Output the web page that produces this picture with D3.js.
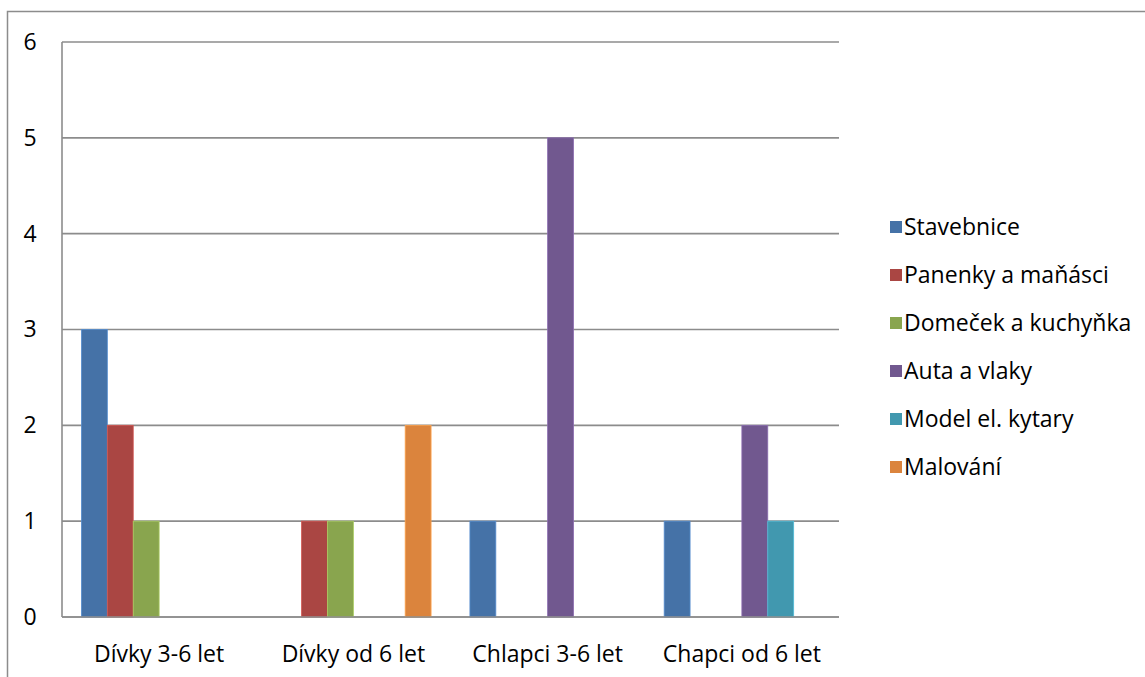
<!DOCTYPE html>
<html>
<head>
<meta charset="utf-8">
<script src="https://cdn.jsdelivr.net/npm/d3@7"></script>
<style>
  html, body { margin: 0; padding: 0; background: #fff; }
  svg { display: block; font-family: "Open Sans", "Noto Sans", sans-serif; }
</style>
</head>
<body>
<svg id="chart" width="1145" height="677"></svg>
<script>
// Age groups along the x axis
const categories = ["Dívky 3-6 let", "Dívky od 6 let", "Chlapci 3-6 let", "Chapci od 6 let"];

// Toy types (series) and their colours
const seriesNames = ["Stavebnice", "Panenky a maňásci", "Domeček a kuchyňka", "Auta a vlaky", "Model el. kytary", "Malování"];
const seriesColors = ["#4572A7", "#AA4643", "#89A54E", "#71588F", "#4198AF", "#DB843D"];

// Counts per series, one value per age group
const stavebnice = [3, 0, 1, 1];
const panenky    = [2, 1, 0, 0];
const domecek    = [1, 1, 0, 0];
const auta       = [0, 0, 5, 2];
const kytary     = [0, 0, 0, 1];
const malovani   = [0, 2, 0, 0];
const seriesValues = [stavebnice, panenky, domecek, auta, kytary, malovani];

const yTicks = [0, 1, 2, 3, 4, 5, 6];

const FONT = 23;
const svg = d3.select("#chart");
const plot = { left: 62, right: 839, top: 42, bottom: 617 };

// Outer chart frame
svg.append("path")
  .attr("d", "M7.5,677 V11.5 H1145")
  .attr("fill", "none").attr("stroke", "#8c8c8c").attr("stroke-width", 1.5);

const x0 = d3.scaleBand().domain(categories).range([plot.left, plot.right]).paddingInner(0).paddingOuter(0);
const x1 = d3.scaleBand().domain(d3.range(seriesNames.length))
  .range([0, x0.bandwidth()]).paddingInner(0).paddingOuter(0.75);
const y = d3.scaleLinear().domain([0, 6]).range([plot.bottom, plot.top]);

// Horizontal gridlines
svg.append("g").selectAll("line").data(yTicks).join("line")
  .attr("x1", plot.left).attr("x2", plot.right)
  .attr("y1", d => y(d)).attr("y2", d => y(d))
  .attr("stroke", "#8c8c8c").attr("stroke-width", 1.6);

// Bars
const groups = svg.append("g").selectAll("g").data(categories).join("g")
  .attr("transform", c => `translate(${x0(c)},0)`);
groups.selectAll("rect")
  .data((c, ci) => seriesValues.map((vals, si) => ({ si, v: vals[ci] })).filter(d => d.v > 0))
  .join("rect")
  .attr("x", d => x1(d.si))
  .attr("width", x1.bandwidth())
  .attr("y", d => y(d.v))
  .attr("height", d => y(0) - y(d.v))
  .attr("fill", d => seriesColors[d.si])
  .attr("stroke", d => d3.color(seriesColors[d.si]).brighter(0.6))
  .attr("stroke-width", 0.8);

// Y axis line
svg.append("line")
  .attr("x1", plot.left).attr("x2", plot.left)
  .attr("y1", plot.top).attr("y2", plot.bottom)
  .attr("stroke", "#8c8c8c").attr("stroke-width", 1.6);
// X axis line
svg.append("line")
  .attr("x1", plot.left).attr("x2", plot.right)
  .attr("y1", plot.bottom).attr("y2", plot.bottom)
  .attr("stroke", "#8c8c8c").attr("stroke-width", 1.6);

// Y axis labels
const yAxis = d3.axisLeft(y).tickValues(yTicks).tickSize(0).tickPadding(0).tickFormat(d3.format("d"));
const gy = svg.append("g").attr("transform", "translate(30,0)").call(yAxis);
gy.select(".domain").remove();
gy.selectAll("text").attr("text-anchor", "middle").attr("font-size", FONT).attr("fill", "#000")
  .attr("font-family", "Open Sans, Noto Sans, sans-serif");

// X axis labels
const xAxis = d3.axisBottom(x0).tickSize(0).tickPadding(0);
const gx = svg.append("g").attr("transform", `translate(0,${plot.bottom})`).call(xAxis);
gx.select(".domain").remove();
gx.selectAll("text").attr("y", 45).attr("dy", 0).attr("font-size", FONT).attr("fill", "#000")
  .attr("font-family", "Open Sans, Noto Sans, sans-serif");

// Legend
const legend = svg.append("g").attr("transform", "translate(890,227)");
const items = legend.selectAll("g").data(seriesNames).join("g")
  .attr("transform", (d, i) => `translate(0,${i * 48})`);
items.append("rect").attr("x", 0).attr("y", -6).attr("width", 12).attr("height", 12)
  .attr("fill", (d, i) => seriesColors[i]);
items.append("text").attr("x", 14).attr("y", 0).attr("dy", "0.35em")
  .attr("font-size", FONT).attr("fill", "#000").text(d => d);
</script>
</body>
</html>
